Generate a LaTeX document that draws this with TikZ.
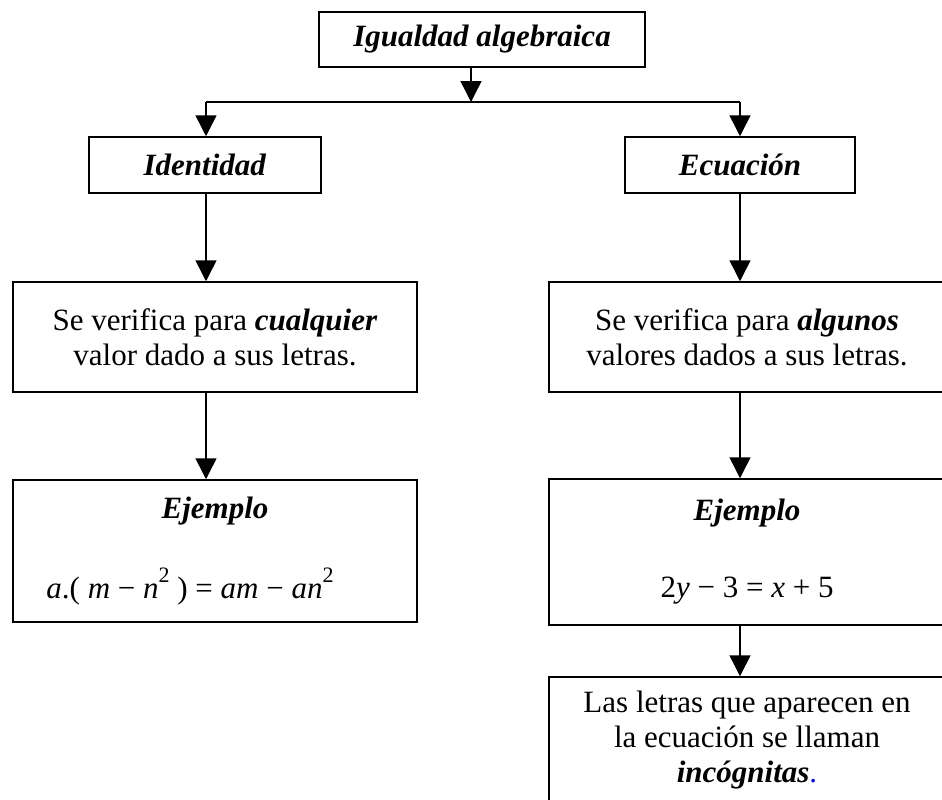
\documentclass[tikz,border=0pt]{standalone}
\usepackage{fontspec}
\setmainfont{Liberation Serif}
\usetikzlibrary{arrows.meta}
\newcommand{\bi}[1]{\textbf{\textit{#1}}}
\newcommand{\mysup}[1]{\raisebox{0.5em}{\fontsize{22}{22}\selectfont #1}}
\begin{document}
\begin{tikzpicture}[x=1pt,y=-1pt,
  box/.style={draw, line width=1.5pt, align=center, inner sep=0pt,
    font=\fontsize{31}{35}\selectfont},
  arr/.style={line width=1.5pt, -{Triangle[width=21pt,length=21pt]}},
  conn/.style={line width=1.5pt}]
\useasboundingbox (0,0) rectangle (942,800);
\clip (0,0) rectangle (942,800);
% nodes
\node[box, minimum width=326pt, minimum height=55pt] (top) at (482,39.5) {\bi{Igualdad algebraica}};
\node[box, minimum width=232pt, minimum height=56pt] (id) at (205,165) {\bi{Identidad}};
\node[box, minimum width=230pt, minimum height=56pt] (ec) at (740,165) {\bi{Ecuación}};
\node[box, minimum width=404pt, minimum height=110pt] (vl) at (215,337)
  {Se verifica para \bi{cualquier}\\valor dado a sus letras.};
\node[box, minimum width=396pt, minimum height=110pt] (vr) at (747,337)
  {Se verifica para \bi{algunos}\\valores dados a sus letras.};
\node[box, minimum width=404pt, minimum height=142pt] (el) at (215,551)
  {\bi{Ejemplo}\\[42pt]\hspace*{-50pt}\textit{a}.(\ \textit{m} − \textit{n}\mysup{2} ) = \textit{am} − \textit{an}\mysup{2}};
\node[box, minimum width=396pt, minimum height=146pt] (er) at (747,552)
  {\bi{Ejemplo}\\[42pt]2\textit{y} − 3 = \textit{x} + 5};
\node[box, minimum width=396pt, minimum height=126pt] (inc) at (747,740)
  {Las letras que aparecen en\\la ecuación se llaman\\\bi{incógnitas}\textcolor{blue}{.}};
% connector columns
\coordinate (cm) at (471,0);
\coordinate (cl) at (206,0);
\coordinate (cr) at (740,0);
\coordinate (bus) at (0,102);
% connectors
\draw[arr] (top.south -| cm) -- (bus -| cm);
\draw[conn] (bus -| cl) -- (bus -| cr);
\draw[arr] (bus -| cl) -- (id.north -| cl);
\draw[arr] (bus -| cr) -- (ec.north -| cr);
\draw[arr] (id.south -| cl) -- (vl.north -| cl);
\draw[arr] (vl.south -| cl) -- (el.north -| cl);
\draw[arr] (ec.south -| cr) -- (vr.north -| cr);
\draw[arr] (vr.south -| cr) -- (er.north -| cr);
\draw[arr] (er.south -| cr) -- (inc.north -| cr);
\end{tikzpicture}
\end{document}
